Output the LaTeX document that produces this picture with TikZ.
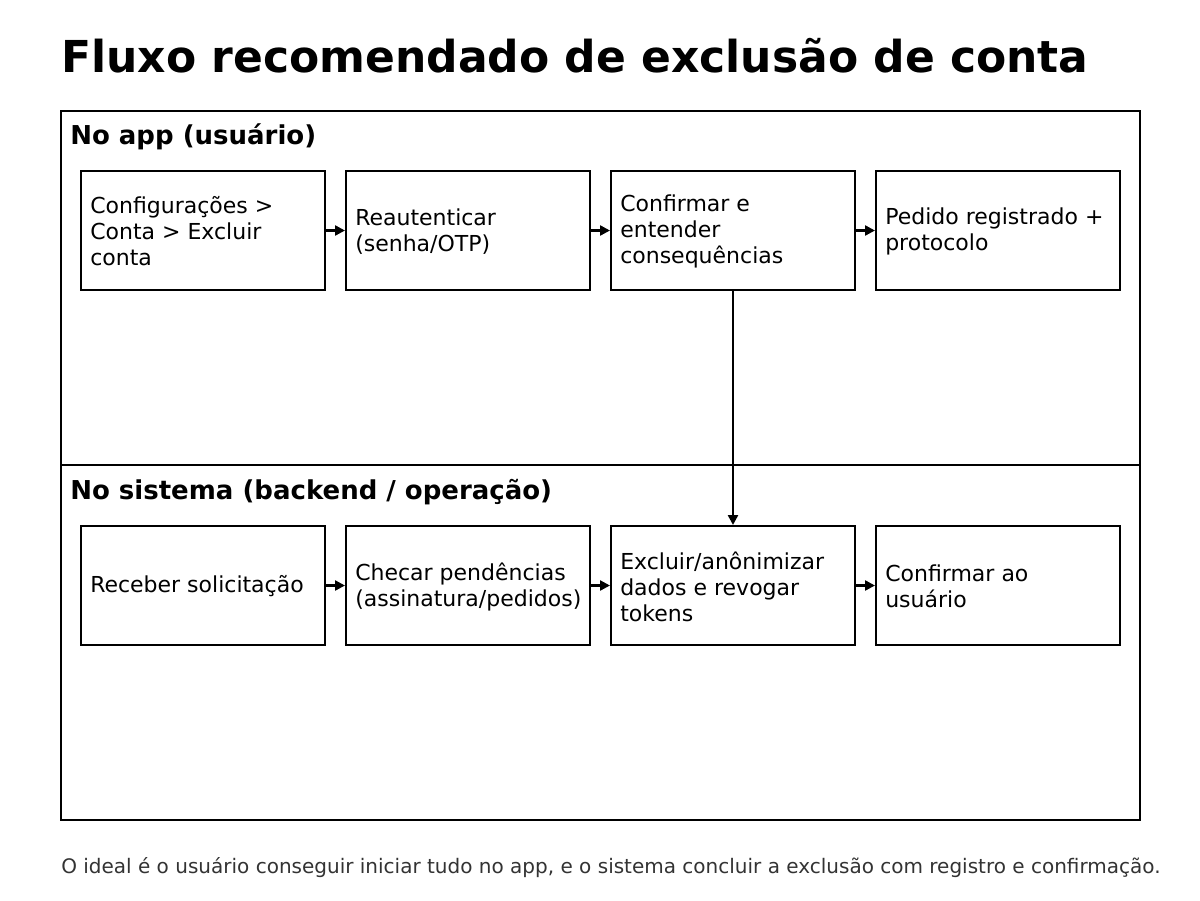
\documentclass[tikz,border=0pt]{standalone}
\usepackage{fontspec}
\setmainfont{DejaVu Sans}
\usetikzlibrary{arrows.meta}
\begin{document}
\begin{tikzpicture}[x=0.75pt,y=-0.75pt,
  lane/.style={draw=black,line width=1.5pt},
  stepbox/.style={draw=black,line width=1.5pt,minimum width=183pt,minimum height=89.25pt,anchor=north west,inner sep=0pt},
  boxtext/.style={anchor=west,align=left,inner sep=0pt,font=\fontsize{16.5}{19.5}\selectfont},
  lanelabel/.style={anchor=base west,inner sep=0pt,font=\fontsize{19.5}{22}\selectfont\bfseries},
  conn/.style={line width=1.8pt,-{Triangle[length=7.5pt,width=7.5pt]}}]
\useasboundingbox (0,0) rectangle (1200,900);
\node[anchor=base west,inner sep=0pt,font=\fontsize{33}{38}\selectfont\bfseries] (title) at (61,72) {Fluxo recomendado de exclusão de conta};
\draw[lane] (61,111) rectangle (1140,465);
\draw[lane] (61,465) rectangle (1140,820);
\node[lanelabel] (l1) at (70,144) {No app (usuário)};
\node[lanelabel] (l2) at (70,499) {No sistema (backend / operação)};
% row 1
\node[stepbox] (a1) at (80,170) {};
\node[stepbox] (a2) at (345,170) {};
\node[stepbox] (a3) at (610,170) {};
\node[stepbox] (a4) at (875,170) {};
\node[boxtext] at ([xshift=7.5pt,yshift=-0.5pt]a1.west) {Configurações >\\Conta > Excluir\\conta};
\node[boxtext] at ([xshift=7.5pt,yshift=-0.75pt]a2.west) {Reautenticar\\(senha/OTP)};
\node[boxtext] at ([xshift=7.5pt,yshift=-0.75pt]a3.west) {Confirmar e\\entender\\consequências};
\node[boxtext] at ([xshift=7.5pt,yshift=-0.75pt]a4.west) {Pedido registrado +\\protocolo};
% row 2
\node[stepbox] (b1) at (80,525) {};
\node[stepbox] (b2) at (345,525) {};
\node[stepbox] (b3) at (610,525) {};
\node[stepbox] (b4) at (875,525) {};
\node[boxtext] at ([xshift=7.5pt,yshift=-0.75pt]b1.west) {Receber solicitação};
\node[boxtext] at ([xshift=7.5pt,yshift=-0.75pt]b2.west) {Checar pendências\\(assinatura/pedidos)};
\node[boxtext] at ([xshift=7.5pt,yshift=-0.75pt]b3.west) {Excluir/anônimizar\\dados e revogar\\tokens};
\node[boxtext] at ([xshift=7.5pt,yshift=-0.75pt]b4.west) {Confirmar ao\\usuário};
% connectors
\draw[conn] (a1.east) -- (a2.west);
\draw[conn] (a2.east) -- (a3.west);
\draw[conn] (a3.east) -- (a4.west);
\draw[conn] (b1.east) -- (b2.west);
\draw[conn] (b2.east) -- (b3.west);
\draw[conn] (b3.east) -- (b4.west);
\draw[conn] (a3.south) -- (b3.north);
\node[anchor=base west,inner sep=0pt,text=black!80,font=\fontsize{15}{18}\selectfont] (foot) at (61,873) {O ideal é o usuário conseguir iniciar tudo no app, e o sistema concluir a exclusão com registro e confirmação.};
\end{tikzpicture}
\end{document}
